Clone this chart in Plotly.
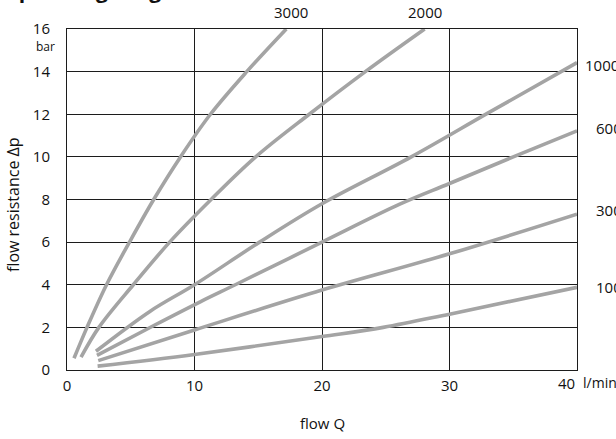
import plotly.graph_objects as go

# Pressure-drop curves (flow in l/min -> flow resistance in bar), one per viscosity class
series_names = ["3000", "2000", "1000", "600", "300", "100"]

q_3000 = [0.55, 1.57, 3.1, 4.9, 6.8, 8.9, 11.25, 14.1, 17.2]
dp_3000 = [0.55, 2.0, 4.0, 6.0, 8.0, 10.0, 12.0, 14.0, 16.0]

q_2000 = [1.1, 2.5, 5.2, 8.05, 11.3, 14.8, 19.0, 23.4, 28.05]
dp_2000 = [0.6, 2.0, 4.0, 6.0, 8.0, 10.0, 12.0, 14.0, 16.0]

q_1000 = [2.27, 6.5, 10.0, 15.1, 20.0, 27.0, 33.0, 40.0]
dp_1000 = [0.88, 2.75, 4.0, 6.0, 7.8, 10.0, 12.05, 14.42]

q_600 = [2.35, 6.85, 10.45, 13.2, 20.0, 26.1, 30.0, 35.0, 40.0]
dp_600 = [0.69, 2.1, 3.2, 4.0, 6.0, 7.78, 8.75, 10.0, 11.22]

q_300 = [2.45, 10.0, 20.0, 30.0, 40.0]
dp_300 = [0.44, 1.88, 3.75, 5.45, 7.31]

q_100 = [2.4, 10.0, 20.0, 24.8, 30.0, 40.0]
dp_100 = [0.18, 0.73, 1.57, 2.0, 2.62, 3.88]

x_ticks = [0, 10, 20, 30]
y_ticks = [0, 2, 4, 6, 8, 10, 12, 14, 16]

# Curve label anchor points (data coordinates)
label_x = [17.6, 28.1, 40.45, 41.3, 41.3, 41.3]
label_y = [16.82, 16.82, 14.3, 11.35, 7.5, 3.9]

X_RANGE = [0, 40]
Y_RANGE = [0, 16]

FONT = "Open Sans"
TEXT_COLOR = "#111111"
CURVE_COLOR = "#a4a4a4"
GRID_COLOR = "#1c1c1c"


def px(x):
    """Data x -> paper fraction (lets labels sit outside the axis range)."""
    return (x - X_RANGE[0]) / (X_RANGE[1] - X_RANGE[0])


def py(y):
    return (y - Y_RANGE[0]) / (Y_RANGE[1] - Y_RANGE[0])


fig = go.Figure()
for q, dp, name in [
    (q_3000, dp_3000, "3000"),
    (q_2000, dp_2000, "2000"),
    (q_1000, dp_1000, "1000"),
    (q_600, dp_600, "600"),
    (q_300, dp_300, "300"),
    (q_100, dp_100, "100"),
]:
    fig.add_trace(go.Scatter(
        x=q, y=dp, mode="lines", name=name,
        line=dict(color=CURVE_COLOR, width=3.6, shape="spline", smoothing=1.0),
        hoverinfo="x+y+name",
    ))

annotations = []
# curve labels: top ones centred, right-hand ones left-aligned
for i, name in enumerate(series_names):
    annotations.append(dict(
        x=px(label_x[i]), y=py(label_y[i]), xref="paper", yref="paper",
        text=name, showarrow=False,
        xanchor="center" if i < 2 else "left", yanchor="middle",
        font=dict(family=FONT, size=15, color=TEXT_COLOR),
    ))

# last x tick with its unit
annotations.append(dict(x=px(40), y=0, xref="paper", yref="paper", text="40", showarrow=False,
                        xanchor="right", yanchor="top", yshift=-1,
                        font=dict(family=FONT, size=15, color=TEXT_COLOR)))
annotations.append(dict(x=px(40.3), y=0, xref="paper", yref="paper", text="l/min",
                        showarrow=False, xanchor="left", yanchor="top", yshift=-1,
                        font=dict(family=FONT, size=14, color=TEXT_COLOR)))
# unit under the top y tick
annotations.append(dict(x=-0.042, y=py(15.2), xref="paper", yref="paper", text="bar",
                        showarrow=False, xanchor="center", yanchor="middle",
                        font=dict(family=FONT, size=12, color=TEXT_COLOR)))
# axis titles
annotations.append(dict(x=-0.107, y=0.485, xref="paper", yref="paper",
                        text="flow resistance Δp", showarrow=False, textangle=-90,
                        xanchor="center", yanchor="middle",
                        font=dict(family=FONT, size=16, color=TEXT_COLOR)))
annotations.append(dict(x=0.5, y=-0.156, xref="paper", yref="paper", text="flow Q",
                        showarrow=False, xanchor="center", yanchor="middle",
                        font=dict(family=FONT, size=15, color=TEXT_COLOR)))
# chart heading
annotations.append(dict(x=-0.131, y=1.066, xref="paper", yref="paper",
                        text="<b>Operating range 0</b>", showarrow=False,
                        xanchor="left", yanchor="bottom",
                        font=dict(family=FONT, size=21, color=TEXT_COLOR)))

fig.update_layout(
    width=616, height=439,
    margin=dict(l=67, r=39, t=29, b=69),
    paper_bgcolor="white", plot_bgcolor="white",
    showlegend=False,
    annotations=annotations,
    font=dict(family=FONT, size=15, color=TEXT_COLOR),
)
fig.update_xaxes(
    range=X_RANGE, tickvals=x_ticks, ticktext=[str(v) for v in x_ticks],
    showgrid=True, gridcolor=GRID_COLOR, gridwidth=1,
    showline=True, linecolor=GRID_COLOR, linewidth=1, mirror=True,
    zeroline=False, ticks="", ticklabelstandoff=2,
    tickfont=dict(family=FONT, size=15, color=TEXT_COLOR),
)
fig.update_yaxes(
    range=Y_RANGE, tickvals=y_ticks, ticktext=[str(v) for v in y_ticks],
    showgrid=True, gridcolor=GRID_COLOR, gridwidth=1,
    showline=True, linecolor=GRID_COLOR, linewidth=1, mirror=True,
    zeroline=False, ticks="", ticklabelstandoff=13,
    tickfont=dict(family=FONT, size=15, color=TEXT_COLOR),
)

fig.write_html("out.html")
